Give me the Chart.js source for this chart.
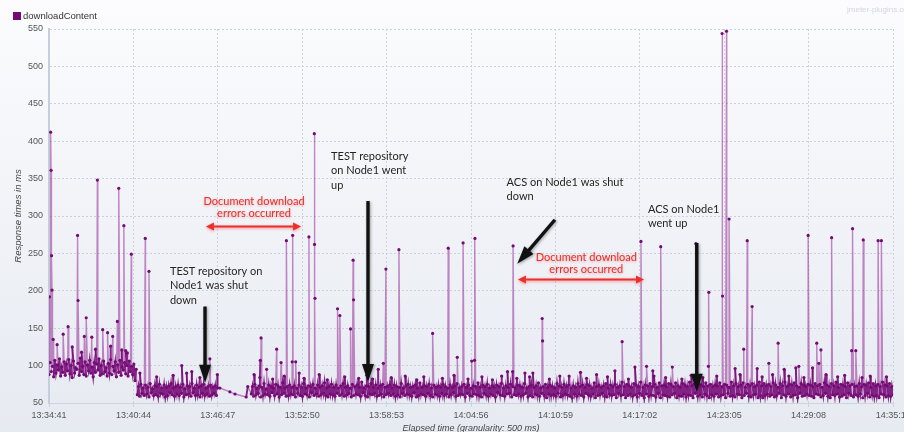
<!DOCTYPE html>
<html>
<head>
<meta charset="utf-8">
<script src="https://cdn.jsdelivr.net/npm/chart.js@4.4.1/dist/chart.umd.min.js"></script>
<style>
  html, body { margin: 0; padding: 0; background: #eef1f6; }
  canvas { display: block; }
</style>
</head>
<body>
<canvas id="rt" width="904" height="432"></canvas>
<script>
// ---- data -------------------------------------------------------------
const seriesName = 'downloadContent';

// x axis: elapsed seconds since 13:34:41, labelled with wall-clock time
const tickSeconds = [0, 363, 726, 1089, 1452, 1815, 2178, 2541, 2904, 3267, 3630];
const tickLabels = ['13:34:41', '13:40:44', '13:46:47', '13:52:50', '13:58:53', '14:04:56',
                    '14:10:59', '14:17:02', '14:23:05', '14:29:08', '14:35:11'];

// y axis range (ms)
const yMin = 50, yMax = 550, yStep = 50;

// regular readings: in every 10 s bucket one fast reading (at the bucket start)
// and one slow reading (5 s later); null = no successful downloads
const bucketSec = 10;
const lowWarmup = [88,92,85,90,94,86,91,87,93,89,84,90,95,87,92,88,86,93,90,85,
                   91,94,87,89,92,86,90,88,93,85,91,87,94,89,86,92,88,80];
const highWarmup = [104,99,107,101,109,98,105,102,108,100,106,97,103,110,99,105,101,107,98,104,
                    102,109,100,106,97,103,108,99,105,101,107,98,104,100,106,99,102,95];
const lowSettled = [61,59,63,60,62,58,64,60,61,59,63,62,58,60,64,61,59,62,60,63,
                    58,61,62,59,64,60,61,58,63,60,62,59,61,63,60];
const highSettled = [72,75,70,74,71,76,69,73,72,75,70,74,71,73,76,70,72,74,71,75,
                     69,73,72,76,70,74,71,73,75,70,72,74,71,73,70];
const outage = [null,null,null,null,null,null,null,null,null,null,null,null,null,null];
const lowResumed = [
  62,59,61,63,58,60,62,61,59,64,60,62,58,61,63,59,60,62,61,58,
  63,60,59,62,61,58,64,60,62,59,61,63,60,58,62,61,59,63,60,62,
  59,61,63,58,60,62,61,59,64,60,58,62,61,63,59,60,62,58,61,63,
  60,62,59,61,58,63,60,62,61,59,64,58,60,62,61,59,63,60,58,62,
  61,59,63,60,62,58,61,64,59,60,62,61,58,63,60,59,62,61,60,58,
  63,61,59,62,60,58,64,61,60,59,62,63,58,61,60,62,59,61,63,58,
  60,58,62,61,59,63,60,57,62,60,61,59,63,58,60,62,61,59,57,62,
  59,62,60,58,63,61,59,62,57,60,61,63,59,58,62,60,61,57,63,60,
  61,57,60,62,59,61,58,63,60,57,62,59,61,60,58,63,57,61,60,59,
  58,61,63,57,60,59,62,58,61,60,57,63,59,61,58,62,60,57,61,59,
  62,58,60,61,57,63,59,60,58,62,61,57,60,63,59,58,61,62,57,60,
  57,60,62,59,61,58,60,63,57,61,59,62,58,60,61,57,63,59,60,62,
  60,59,57,62,61,58,60,63,59,57,61,60,62,58,59,61,57,63,60,58,
  61,59,62,57,60,63,58,61,59,60,57,62,61,58,60,59,61];
const highResumed = [
  72,75,70,73,71,76,69,74,72,70,75,73,71,77,70,72,74,71,73,70,
  74,71,76,70,73,72,75,70,74,71,73,77,70,72,75,71,74,70,73,76,
  71,73,70,75,72,74,71,78,70,73,72,76,71,74,70,73,75,71,72,74,
  70,74,72,71,76,70,73,75,71,72,74,70,77,71,73,72,75,70,74,71,
  73,71,75,72,70,74,71,73,76,70,72,75,71,74,70,73,72,77,71,74,
  72,75,70,73,71,74,72,76,70,73,71,75,72,70,74,73,71,76,70,72,
  74,71,73,77,70,72,75,71,74,72,70,76,73,71,75,72,74,70,73,71,
  76,72,74,71,75,73,70,77,72,74,71,73,76,70,74,72,75,71,73,78,
  72,75,73,71,76,74,72,78,71,74,73,76,72,75,71,77,73,74,72,76,
  75,72,77,73,71,76,74,72,78,73,75,71,76,74,72,77,73,75,72,74,
  73,77,72,75,74,71,78,73,76,72,74,77,71,75,73,76,72,74,78,73,
  76,73,75,72,77,74,71,76,73,78,72,75,74,77,73,71,76,74,72,75,
  74,72,76,73,75,71,77,74,72,76,73,78,71,75,74,72,77,73,75,72,
  73,76,72,75,74,77,71,76,73,75,72,78,74,73,76,72,74];

// individual readings between the regular ones (spikes, slow outliers, sparse readings)
const extraSec = [
  2,7,9,11,13,18,35,61,82,100,123,125,140,152,160,184,200,208,231,252,265,274,294,300,313,322,330,337,354,
  391,414,430,463,534,571,592,614,649,692,724,
  735,778,800,848,855,
  882,907,909,912,936,962,979,998,1012,1021,1046,1048,1061,1076,1097,1118,1141,1142,1144,1162,1197,
  1241,1251,1272,1297,1308,1310,1332,1367,1392,1416,1438,1449,1472,1505,1532,1582,1612,1650,1692,
  1717,1742,1756,1781,1802,1818,1830,1832,1862,1907,1947,1972,1994,1996,2012,2047,2067,2081,2121,2123,
  2152,2197,2237,2286,2312,2355,2402,2434,2465,2492,2520,2546,2570,2597,2602,2631,2652,2681,2722,2762,
  2782,2812,2836,2838,2872,2895,2897,2914,2925,2951,2972,2988,3003,3024,3046,3067,3096,3112,3136,3162,
  3182,3212,3225,3247,3265,3284,3302,3311,3320,3342,3366,3392,3422,3452,3456,3470,3497,3502,3532,3566,
  3580,3602];
const extraMs = [
  192,412,361,247,201,135,128,142,152,125,274,187,118,139,164,138,122,348,148,144,126,139,159,337,121,287,120,117,249,
  90,270,226,85,87,100,90,92,84,109,88,
  70,65,62,58,72,
  88,84,107,137,95,82,122,104,86,267,105,274,105,90,83,272,410,262,190,88,81,
  176,167,85,149,241,188,83,87,82,95,103,229,84,255,86,81,85,143,83,
  257,87,111,264,82,106,107,270,85,81,86,92,92,260,83,90,85,90,163,133,
  82,86,86,91,83,88,85,93,132,82,98,266,99,93,86,259,84,98,82,87,
  263,84,99,198,86,544,193,547,296,96,88,122,267,179,96,85,103,88,130,95,
  86,97,99,84,274,97,130,103,121,88,271,85,87,120,283,120,84,268,86,267,
  267,85];

// call-outs, anchored in data units (seconds, ms)
const calloutText = [
  { lines: ['TEST repository on', 'Node1 was shut', 'down'], sec: 520, ms: 226, tone: 'dark', align: 'left' },
  { lines: ['Document download', 'errors occurred'], sec: 882, ms: 320, tone: 'red', align: 'center' },
  { lines: ['TEST repository', 'on Node1 went', 'up'], sec: 1213, ms: 380, tone: 'dark', align: 'left' },
  { lines: ['ACS on Node1 was shut', 'down'], sec: 1968, ms: 345, tone: 'dark', align: 'left' },
  { lines: ['Document download', 'errors occurred'], sec: 2311, ms: 245, tone: 'red', align: 'center' },
  { lines: ['ACS on Node1', 'went up'], sec: 2576, ms: 309, tone: 'dark', align: 'left' }
];
const calloutArrows = [
  { from: [671, 179], to: [671, 77], tone: 'dark' },
  { from: [675, 286], to: [1084, 286], tone: 'red' },
  { from: [1372, 320], to: [1372, 78], tone: 'dark' },
  { from: [2176, 295], to: [2014, 236], tone: 'dark' },
  { from: [2017, 215], to: [2559, 215], tone: 'red' },
  { from: [2786, 264], to: [2786, 65], tone: 'dark' }
];

// ---- build the line series -------------------------------------------
const lowMs = [].concat(lowWarmup, lowSettled, outage, lowResumed);
const highMs = [].concat(highWarmup, highSettled, outage, highResumed);
const points = [];
lowMs.forEach((v, i) => {
  if (v !== null) points.push({ x: i * bucketSec, y: v });
  if (highMs[i] !== null) points.push({ x: i * bucketSec + bucketSec / 2, y: highMs[i] });
});
extraSec.forEach((s, i) => points.push({ x: s, y: extraMs[i] }));
points.sort((a, b) => a.x - b.x);

const PURPLE = '#740a74';
const FONT = '"Liberation Sans", Arial, sans-serif';
const NOTE_FONT = 'Lato, "Open Sans", sans-serif';

// long strokes (spikes, sparse stretches) render lighter and thinner than the dense band
const isLong = ctx => Math.abs(ctx.p0.parsed.y - ctx.p1.parsed.y) > 25 ||
                      Math.abs(ctx.p0.parsed.x - ctx.p1.parsed.x) > 8;
const segmentColor = ctx => isLong(ctx) ? 'rgba(150,40,150,0.55)' : 'rgba(112,0,112,0.85)';
const segmentWidth = ctx => isLong(ctx) ? 1.4 : 1.9;

// ---- drawing helpers --------------------------------------------------
function arrowHead(ctx, tip, dir, len, half) {
  const [dx, dy] = dir;
  const px = -dy, py = dx;
  const bx = tip[0] - dx * len, by = tip[1] - dy * len;
  ctx.beginPath();
  ctx.moveTo(tip[0], tip[1]);
  ctx.lineTo(bx + px * half, by + py * half);
  ctx.lineTo(bx - px * half, by - py * half);
  ctx.closePath();
  ctx.fill();
}

const backdrop = {
  id: 'backdrop',
  beforeDraw(chart) {
    const { ctx, width, height } = chart;
    const g = ctx.createLinearGradient(0, 0, 0, height);
    g.addColorStop(0, '#fcfcfe');
    g.addColorStop(1, '#e6eaf1');
    ctx.save();
    ctx.fillStyle = g;
    ctx.fillRect(0, 0, width, height);
    ctx.restore();
  }
};

const callouts = {
  id: 'callouts',
  afterDatasetsDraw(chart) {
    const { ctx, scales: { x, y } } = chart;
    ctx.save();
    calloutArrows.forEach(a => {
      const x1 = x.getPixelForValue(a.from[0]), y1 = y.getPixelForValue(a.from[1]);
      const x2 = x.getPixelForValue(a.to[0]), y2 = y.getPixelForValue(a.to[1]);
      const L = Math.hypot(x2 - x1, y2 - y1);
      const dir = [(x2 - x1) / L, (y2 - y1) / L];
      if (a.tone === 'dark') {
        ctx.shadowColor = 'rgba(0,0,0,0.35)';
        ctx.shadowBlur = 3;
        ctx.shadowOffsetX = 1; ctx.shadowOffsetY = 1;
        ctx.strokeStyle = '#111';
        ctx.fillStyle = '#111';
        ctx.lineWidth = 3.4;
        const hl = 18;
        ctx.beginPath();
        ctx.moveTo(x1, y1);
        ctx.lineTo(x2 - dir[0] * (hl - 2), y2 - dir[1] * (hl - 2));
        ctx.stroke();
        arrowHead(ctx, [x2, y2], dir, hl, 6);
      } else {
        ctx.shadowColor = 'rgba(255,90,90,0.7)';
        ctx.shadowBlur = 3;
        ctx.shadowOffsetX = 0; ctx.shadowOffsetY = 1;
        ctx.strokeStyle = '#e8302c';
        ctx.fillStyle = '#e8302c';
        ctx.lineWidth = 2;
        const hl = 8;
        ctx.beginPath();
        ctx.moveTo(x1 + dir[0] * hl, y1 + dir[1] * hl);
        ctx.lineTo(x2 - dir[0] * hl, y2 - dir[1] * hl);
        ctx.stroke();
        arrowHead(ctx, [x2, y2], dir, hl, 4);
        arrowHead(ctx, [x1, y1], [-dir[0], -dir[1]], hl, 4);
      }
    });
    calloutText.forEach(t => {
      const px = x.getPixelForValue(t.sec), py = y.getPixelForValue(t.ms);
      const red = t.tone === 'red';
      ctx.font = '11px ' + NOTE_FONT;
      ctx.textAlign = t.align;
      ctx.textBaseline = 'middle';
      ctx.fillStyle = red ? '#e5302c' : '#222';
      ctx.shadowColor = red ? 'rgba(255,110,110,0.6)' : 'rgba(255,255,255,0.8)';
      ctx.shadowBlur = red ? 2.5 : 2;
      ctx.shadowOffsetX = 0; ctx.shadowOffsetY = red ? 1 : 0;
      const lh = red ? 12.5 : 14.5;
      t.lines.forEach((line, i) => ctx.fillText(line, px, py + i * lh));
    });
    ctx.restore();
  },
  afterDraw(chart) {
    const { ctx, chartArea: ca } = chart;
    ctx.save();
    // legend
    ctx.fillStyle = chart.data.datasets[0].pointBackgroundColor;
    ctx.fillRect(13, 12, 8, 8);
    ctx.fillStyle = '#333';
    ctx.font = '9.5px ' + FONT;
    ctx.textBaseline = 'middle';
    ctx.textAlign = 'left';
    ctx.fillText(chart.data.datasets[0].label, 23, 16.5);
    // site mark
    ctx.fillStyle = '#d2d6dd';
    ctx.font = '8px ' + FONT;
    ctx.fillText('jmeter-plugins.org', 847, 10);
    // axis titles
    ctx.fillStyle = '#444';
    ctx.font = 'italic 9px ' + FONT;
    ctx.textAlign = 'center';
    ctx.fillText('Elapsed time (granularity: 500 ms)', (ca.left + ca.right) / 2, 428);
    ctx.translate(18, (ca.top + ca.bottom) / 2);
    ctx.rotate(-Math.PI / 2);
    ctx.font = 'italic 9.5px ' + FONT;
    ctx.fillText('Response times in ms', 0, 0);
    ctx.restore();
  }
};

// ---- chart ------------------------------------------------------------
new Chart(document.getElementById('rt'), {
  type: 'line',
  data: {
    datasets: [{
      label: seriesName,
      data: points,
      borderWidth: 1.9,
      segment: { borderColor: segmentColor, borderWidth: segmentWidth },
      borderColor: 'rgba(112,0,112,0.85)',
      pointRadius: 1.6,
      pointBorderWidth: 0,
      pointBackgroundColor: PURPLE,
      tension: 0,
      spanGaps: true
    }]
  },
  options: {
    responsive: false,
    animation: false,
    layout: { padding: { top: 29, right: 11, left: 0, bottom: 0 } },
    plugins: { legend: { display: false }, tooltip: { enabled: false } },
    scales: {
      x: {
        type: 'linear',
        min: tickSeconds[0],
        max: tickSeconds[tickSeconds.length - 1],
        afterBuildTicks: s => { s.ticks = tickSeconds.map(v => ({ value: v })); },
        afterFit: s => { s.height = 29; s.paddingLeft = 0; s.paddingRight = 0; },
        ticks: {
          autoSkip: false, maxRotation: 0, padding: 3,
          color: '#555', font: { family: FONT, size: 9 },
          callback: (v, i) => tickLabels[i]
        },
        grid: { color: '#cdd2da', lineWidth: 1, drawTicks: true, tickLength: 4 },
        border: { display: true, color: '#cfd4dc', width: 1, dash: [2, 2] }
      },
      y: {
        min: yMin, max: yMax,
        afterFit: s => { s.width = 49; },
        ticks: {
          stepSize: yStep, padding: 6,
          color: '#555', font: { family: FONT, size: 9 }
        },
        grid: { color: '#cdd2da', lineWidth: 1, drawTicks: false },
        border: { display: true, color: '#c6cedb', width: 2, dash: [2, 2] }
      }
    }
  },
  plugins: [backdrop, callouts]
});
</script>
</body>
</html>
